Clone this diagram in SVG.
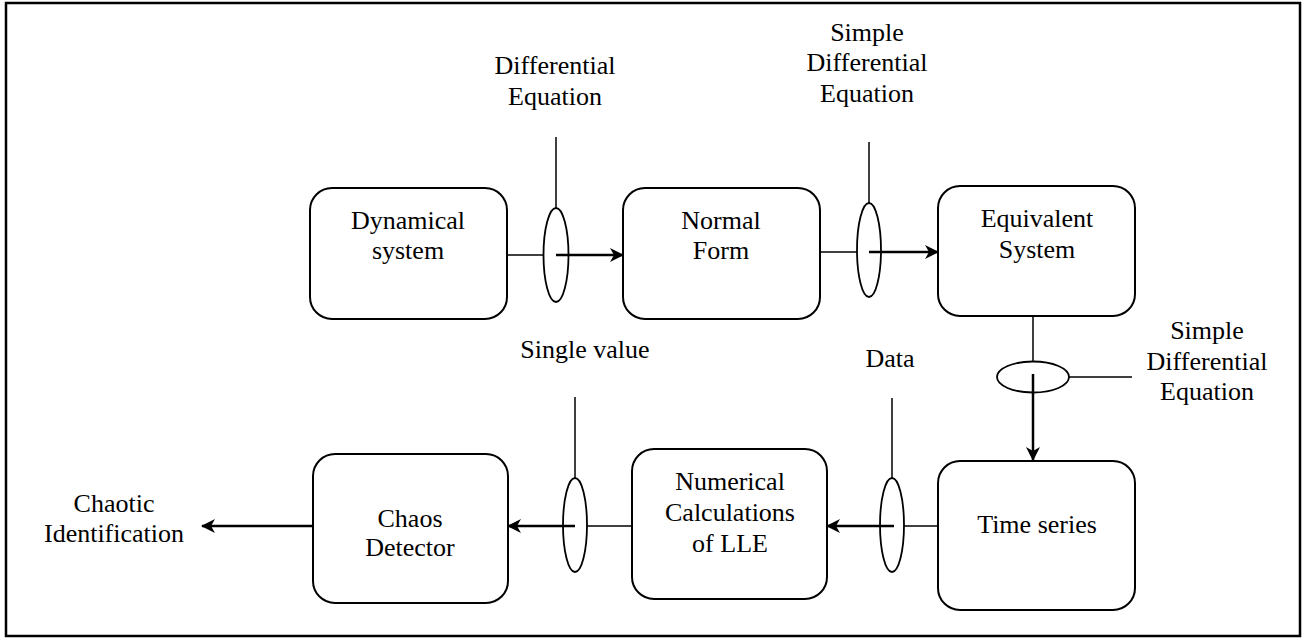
<svg xmlns="http://www.w3.org/2000/svg" width="1307" height="639" viewBox="0 0 1307 639">
<style>
.box{fill:#fff;stroke:#000;stroke-width:2}
.ell{fill:none;stroke:#000;stroke-width:1.8}
.thin{fill:none;stroke:#000;stroke-width:1.5}
.arr{fill:none;stroke:#000;stroke-width:2.5;marker-end:url(#ah)}
text{font-family:"Liberation Serif","Times New Roman",serif;font-size:26px;fill:#000;text-anchor:middle}
</style>
<defs>
<marker id="ah" viewBox="0 0 14 14" refX="13" refY="7" markerWidth="14" markerHeight="14" markerUnits="userSpaceOnUse" orient="auto">
<path d="M0,0 L14,7 L0,14 L4,7 z" fill="#000"/>
</marker>
</defs>
<rect x="0" y="0" width="1307" height="639" fill="#fff"/>
<rect x="6" y="3" width="1294" height="633" fill="none" stroke="#000" stroke-width="2.5"/>

<g id="connectors">
<!-- Dynamical -> Normal Form -->
<line class="thin" x1="507" y1="255" x2="543" y2="255"/>
<line class="thin" x1="556" y1="137" x2="556" y2="208"/>
<ellipse class="ell" cx="556" cy="255" rx="12.5" ry="47"/>
<line class="arr" x1="556" y1="255" x2="623" y2="255"/>
<!-- Normal Form -> Equivalent -->
<line class="thin" x1="820" y1="252" x2="857" y2="252"/>
<line class="thin" x1="869" y1="142" x2="869" y2="203"/>
<ellipse class="ell" cx="869" cy="250" rx="12" ry="47"/>
<line class="arr" x1="869" y1="252" x2="938" y2="252"/>
<!-- Equivalent -> Time series -->
<line class="thin" x1="1033" y1="316" x2="1033" y2="362"/>
<ellipse class="ell" cx="1033" cy="377" rx="36" ry="15.5"/>
<line class="thin" x1="1069" y1="377" x2="1132" y2="377"/>
<line class="arr" x1="1033" y1="374" x2="1033" y2="460"/>
<!-- Time series -> Numerical -->
<line class="thin" x1="904" y1="526" x2="938" y2="526"/>
<line class="thin" x1="892" y1="398" x2="892" y2="478"/>
<ellipse class="ell" cx="892" cy="525" rx="12" ry="47"/>
<line class="arr" x1="894" y1="526" x2="827" y2="526"/>
<!-- Numerical -> Chaos -->
<line class="thin" x1="587" y1="526" x2="632" y2="526"/>
<line class="thin" x1="575" y1="397" x2="575" y2="478"/>
<ellipse class="ell" cx="575" cy="525" rx="12" ry="47"/>
<line class="arr" x1="575" y1="526" x2="508" y2="526"/>
<!-- Chaos -> out -->
<line class="arr" x1="313" y1="526" x2="202" y2="526"/>
</g>

<g id="labels">
<text x="555" y="74">Differential</text>
<text x="555" y="105">Equation</text>
<text x="867" y="41">Simple</text>
<text x="867" y="71">Differential</text>
<text x="867" y="102">Equation</text>
<text x="1207" y="339">Simple</text>
<text x="1207" y="370">Differential</text>
<text x="1207" y="400">Equation</text>
<text x="585" y="358">Single value</text>
<text x="890" y="367">Data</text>
<text x="114" y="512">Chaotic</text>
<text x="114" y="542">Identification</text>
</g>

<g id="dynamical-system">
<rect class="box" x="310" y="188" width="197" height="131" rx="22"/>
<text x="408" y="229">Dynamical</text>
<text x="408" y="259">system</text>
</g>
<g id="normal-form">
<rect class="box" x="623" y="188" width="197" height="131" rx="22"/>
<text x="721" y="229">Normal</text>
<text x="721" y="259">Form</text>
</g>
<g id="equivalent-system">
<rect class="box" x="938" y="186" width="197" height="130" rx="22"/>
<text x="1037" y="227">Equivalent</text>
<text x="1037" y="258">System</text>
</g>
<g id="time-series">
<rect class="box" x="938" y="461" width="197" height="149" rx="22"/>
<text x="1037" y="533">Time series</text>
</g>
<g id="numerical-lle">
<rect class="box" x="632" y="449" width="195" height="150" rx="22"/>
<text x="730" y="490">Numerical</text>
<text x="730" y="521">Calculations</text>
<text x="730" y="552">of LLE</text>
</g>
<g id="chaos-detector">
<rect class="box" x="313" y="454" width="195" height="149" rx="22"/>
<text x="410" y="527">Chaos</text>
<text x="410" y="556">Detector</text>
</g>
</svg>
